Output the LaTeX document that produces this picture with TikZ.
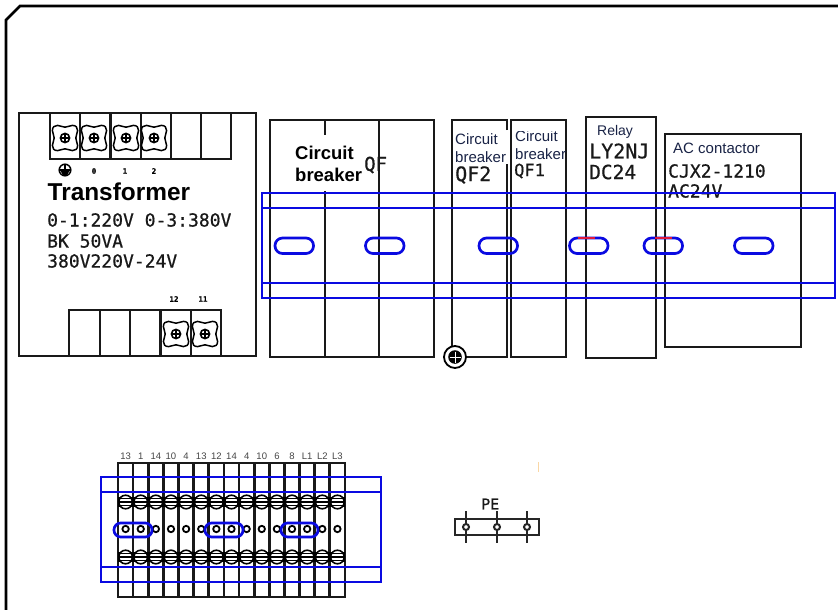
\documentclass[tikz,border=0pt]{standalone}
\usepackage{fontspec}
\setmainfont{Liberation Sans}
\newfontfamily\cadfont[FakeBold=0.6]{DejaVu Sans Mono}
\definecolor{railblue}{RGB}{10,10,225}
\definecolor{slotred}{RGB}{225,25,60}
\definecolor{inknavy}{RGB}{25,35,70}
\definecolor{termgray}{RGB}{70,70,70}
\definecolor{tickorange}{RGB}{250,215,165}
\tikzset{
  body/.style={draw=black!90,line width=2.7pt},
  rail/.style={draw=railblue,line width=2.7pt},
  slotshape/.style={draw=railblue,line width=2.7pt,rounded corners=7.6pt},
  cad/.style={inner sep=0pt,anchor=west,text=black!90},
  sanslabel/.style={inner sep=0pt,anchor=west,text=inknavy},
  boldlabel/.style={inner sep=0pt,anchor=west,text=black,font=\bfseries\fontsize{18.5}{20}\selectfont},
  termlabel/.style={inner sep=0pt,text=termgray,font=\fontsize{9.5}{10}\selectfont},
  tinylabel/.style={inner sep=0pt,text=black,font=\cadfont\bfseries\fontsize{7.5}{8}\selectfont},
  screwterm/.pic={
    \foreach \r in {0,90,180,270}{
      \draw[line width=1.5pt,black,rotate=\r,line cap=round]
        (0,-10.8) .. controls (3,-10.8) and (4.5,-12.6) .. (7.5,-12.6)
        .. controls (11,-12.6) and (12.6,-10.5) .. (12.6,-7.5)
        .. controls (12.6,-4.5) and (10.8,-3) .. (10.8,0);
    }
    \draw[line width=1.6pt,black] (0,0) circle[radius=4.6];
    \draw[line width=1.1pt,black] (-4.6,0) -- (4.6,0) (0,-4.6) -- (0,4.6);
  },
  stripedscrew/.pic={
    \fill[white] (0,0) circle[radius=6.4];
    \draw[line width=1.6pt,black] (0,0) circle[radius=6.8];
    \draw[line width=1.5pt,black] (-6.4,-3.4) -- (6.4,-3.4) (-7,0) -- (7,0) (-6.4,3.4) -- (6.4,3.4);
  }
}
\begin{document}
\begin{tikzpicture}[x=1pt,y=-1pt]
\fill[white] (0,0) rectangle (838,610);
\useasboundingbox (0,0) rectangle (838,610);

% outer frame
\draw[line width=2.7pt,black] (6,610) -- (6,20) -- (20,6) -- (838,6);

% transformer
\draw[body] (19,113) rectangle (256,356);
\draw[body] (50,113) -- (50,159) -- (231,159) -- (231,113);
\foreach \x in {80,110.5,141,171,201}{\draw[body] (\x,113) -- (\x,159);}
\draw[body] (69,356) -- (69,310) -- (221,310) -- (221,356);
\foreach \x in {100,130,160.5,191}{\draw[body] (\x,310) -- (\x,356);}
\foreach \x in {65,94,126,154}{\pic at (\x,138) {screwterm};}
\foreach \x in {176,205}{\pic at (\x,334) {screwterm};}
\draw[line width=1.5pt] (65,170) circle[radius=5.8];
\draw[line width=1.1pt] (59.2,170) -- (70.8,170) (65,164.2) -- (65,170);
\fill (60.5,171) -- (69.5,171) -- (67,175) -- (63,175) -- cycle;
\node[tinylabel] (t0) at (94,171) {0};
\node[tinylabel] (t1) at (125,171) {1};
\node[tinylabel] (t2) at (154,171) {2};
\node[tinylabel] (t12) at (174,299) {12};
\node[tinylabel] (t11) at (203,299) {11};
\node[inner sep=0pt,anchor=west,font=\bfseries\fontsize{24.4}{26}\selectfont,text=black] (transformer) at (47.5,192) {Transformer};
\node[cad,font=\cadfont\fontsize{18}{20}\selectfont] (tr1) at (47,220) {0-1:220V 0-3:380V};
\node[cad,font=\cadfont\fontsize{18}{20}\selectfont] (tr2) at (47,241) {BK 50VA};
\node[cad,font=\cadfont\fontsize{18}{20}\selectfont] (tr3) at (47,261) {380V220V-24V};

% breaker QF
\draw[body] (270,120) rectangle (434,357);
\draw[body] (325,120) -- (325,135) (325,191) -- (325,357);
\draw[body] (379,120) -- (379,357);
\node[boldlabel] (qfa) at (295,153) {Circuit};
\node[boldlabel] (qfb) at (295,175) {breaker};
\node[cad,font=\cadfont\fontsize{19}{20}\selectfont] (qf) at (364,165) {QF};

% QF2
\draw[body] (507,130) -- (507,120) -- (452,120) -- (452,357) -- (507,357) -- (507,164);
\node[sanslabel,font=\fontsize{15}{16}\selectfont] (q2a) at (455,139) {Circuit};
\node[sanslabel,font=\fontsize{15}{16}\selectfont] (q2b) at (455,157) {breaker};
\node[cad,font=\cadfont\fontsize{20}{20}\selectfont] (q2) at (455,175) {QF2};

% QF1
\draw[body] (511,120) rectangle (566,357);
\begin{scope}
\clip (512,131) rectangle (565,165);
\node[sanslabel,font=\fontsize{15}{16}\selectfont] (q1a) at (515,136) {Circuit};
\node[sanslabel,font=\fontsize{15}{16}\selectfont] (q1b) at (515,154) {breaker};
\end{scope}
\node[cad,font=\cadfont\fontsize{17}{20}\selectfont] (q1) at (514,171) {QF1};

% relay
\draw[body] (586,117) rectangle (656,358);
\node[sanslabel,font=\fontsize{14}{16}\selectfont] (relay) at (597,132) {Relay};
\node[cad,font=\cadfont\fontsize{20}{20}\selectfont] (ly) at (589,151) {LY2NJ};
\node[cad,font=\cadfont\fontsize{19.5}{20}\selectfont] (dc) at (589,172) {DC24};

% contactor
\draw[body] (665,134) rectangle (801,347);
\node[sanslabel,font=\fontsize{15}{16}\selectfont] (ac) at (673,148) {AC contactor};
\node[cad,font=\cadfont\fontsize{18}{20}\selectfont] (cjx) at (668,171) {CJX2-1210};
\node[cad,font=\cadfont\fontsize{18}{20}\selectfont] (acv) at (668,191) {AC24V};

% upper rail
\draw[rail] (262,193) rectangle (835,298);
\draw[rail] (262,208) -- (835,208);
\draw[rail] (262,283) -- (835,283);
\foreach \x in {275,365.5,479,569.5,644,734.5}{
  \draw[slotshape] (\x,238) rectangle (\x+38.5,253.5);
}
\draw[line width=2.7pt,slotred] (578,238) -- (595,238);
\draw[line width=2.7pt,slotred] (655,238) -- (672,238);

% ground screw
\fill[white] (455,357) circle[radius=11];
\draw[line width=1.8pt] (455,357) circle[radius=11];
\fill (455,357) circle[radius=6.8];
\draw[white,line width=.8pt] (449.5,357) -- (460.5,357) (455,351.5) -- (455,362.5);

% terminal block
\draw[body] (118,463) rectangle (345,597);
\foreach \i in {1,...,14}{\draw[body] ({118+\i*15.13},463) -- ({118+\i*15.13},597);}
\foreach \i/\t in {0/13,1/1,2/14,3/10,4/4,5/13,6/12,7/14,8/4,9/10,10/6,11/8,12/L1,13/L2,14/L3}{
  \node[termlabel] (lab\i) at ({125.6+\i*15.13},456) {\t};
}
\fill[black] (118,497) rectangle (345,507);
\fill[black] (118,552) rectangle (345,562);
\foreach \i in {0,...,14}{
  \pic at ({125.6+\i*15.13},502) {stripedscrew};
  \pic at ({125.6+\i*15.13},557) {stripedscrew};
  \draw[line width=1.8pt] ({125.6+\i*15.13},529) circle[radius=3.2];
}
\draw[rail] (101,477) rectangle (381,582);
\draw[rail] (101,492) -- (381,492);
\draw[rail] (101,567) -- (381,567);
\foreach \x/\w in {114/38,205/38,281/37}{
  \draw[draw=railblue,line width=2.7pt,rounded corners=6.8pt] (\x,523) rectangle (\x+\w,537);
}

% PE bar
\draw[line width=2pt,black!85] (455,519) rectangle (539,535);
\foreach \x in {466,497,527}{
  \draw[line width=2pt,black!85] (\x,511) -- (\x,543);
  \fill[white] (\x,527) circle[radius=3];
  \draw[line width=2pt,black!85] (\x,527) circle[radius=3];
}
\node[cad,font=\cadfont\fontsize{15}{16}\selectfont] (pe) at (481,504) {PE};
\draw[tickorange,line width=1pt] (538.5,462) -- (538.5,472);
\end{tikzpicture}
\end{document}
